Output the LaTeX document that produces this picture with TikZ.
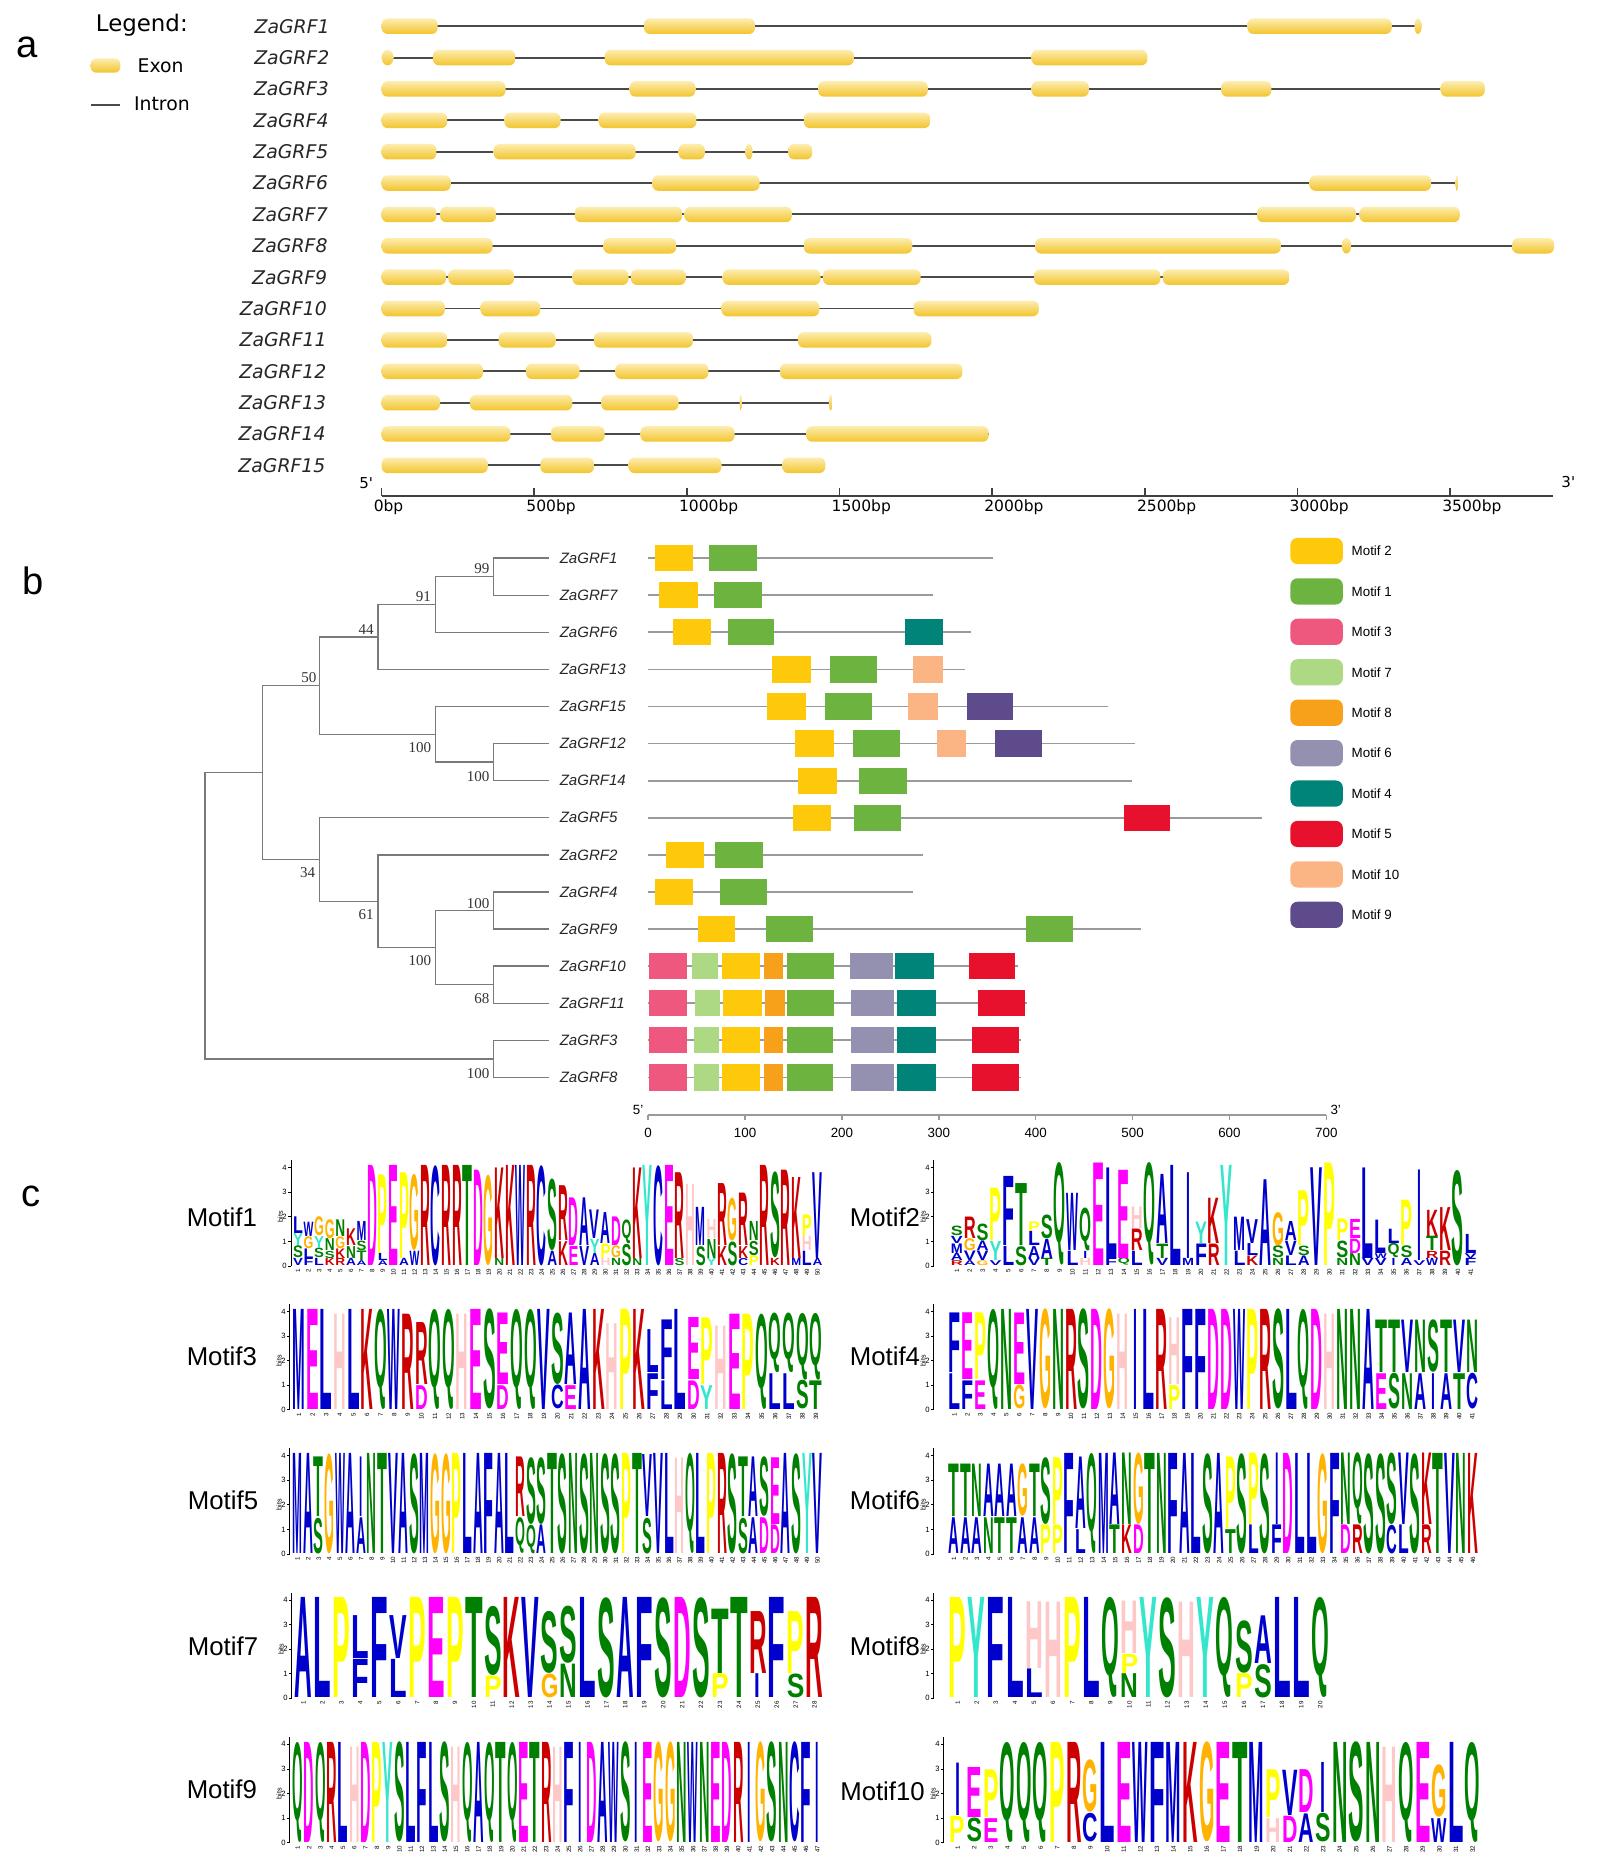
\documentclass[tikz,border=0pt]{standalone}
\usepackage{fontspec}
\usepackage{graphicx}
\setmainfont{Liberation Sans}
\newfontfamily\dvs{DejaVu Sans}
\newfontfamily\lserif{Liberation Serif}
\newfontfamily\logofont{Liberation Sans}
\newcommand\fs[1]{\fontsize{#1}{#1}\selectfont}
\definecolor{exonTop}{HTML}{FDEDB0}
\definecolor{exonBot}{HTML}{F2C42C}
\definecolor{intronC}{HTML}{4A4A4A}
\definecolor{treeC}{HTML}{7A7A7A}
\definecolor{protC}{HTML}{9A9A9A}
\definecolor{m1}{HTML}{6CB33F}
\definecolor{m2}{HTML}{FDC90A}
\definecolor{m3}{HTML}{EF587E}
\definecolor{m4}{HTML}{00847A}
\definecolor{m5}{HTML}{E8112D}
\definecolor{m6}{HTML}{9491B0}
\definecolor{m7}{HTML}{ADD985}
\definecolor{m8}{HTML}{F7A11A}
\definecolor{m9}{HTML}{5E4B8B}
\definecolor{m10}{HTML}{FBB584}
\definecolor{aablue}{HTML}{0000CC}
\definecolor{aagreen}{HTML}{008000}
\definecolor{aamag}{HTML}{FF00FF}
\definecolor{aared}{HTML}{CC0000}
\definecolor{aapink}{HTML}{FFC8C8}
\definecolor{aaorange}{HTML}{FFB300}
\definecolor{aayellow}{HTML}{FFFF00}
\definecolor{aacyan}{HTML}{33E6CC}
\colorlet{aaA}{aablue}\colorlet{aaC}{aablue}\colorlet{aaF}{aablue}\colorlet{aaI}{aablue}
\colorlet{aaL}{aablue}\colorlet{aaV}{aablue}\colorlet{aaW}{aablue}\colorlet{aaM}{aablue}
\colorlet{aaN}{aagreen}\colorlet{aaQ}{aagreen}\colorlet{aaS}{aagreen}\colorlet{aaT}{aagreen}
\colorlet{aaD}{aamag}\colorlet{aaE}{aamag}\colorlet{aaK}{aared}\colorlet{aaR}{aared}
\colorlet{aaH}{aapink}\colorlet{aaG}{aaorange}\colorlet{aaP}{aayellow}\colorlet{aaY}{aacyan}
\tikzset{
  exon/.style={top color=exonTop, bottom color=exonBot, draw=none, rounded corners=2.5pt},
  intron/.style={draw=intronC, line width=0.8pt},
  glab/.style={font=\dvs\itshape\fs{7.9}, text=black!85, anchor=east, inner sep=0},
  tlab/.style={font=\itshape\fs{6.3}, text=black!85, anchor=west, inner sep=0},
  boot/.style={font=\lserif\fs{6.3}, text=black!80, inner sep=0},
  tree/.style={draw=treeC, line width=0.6pt},
  protline/.style={draw=protC, line width=0.7pt},
  panel/.style={font=\fs{16}, inner sep=0},
  mlab/.style={font=\fs{10.8}, inner sep=0},
}
\def\bitu{20.6}
\def\Iletter{I}
\newcommand\gene[3]{%
  \draw[intron] (320,#1) -- (#2,#1);
  \foreach \a/\b in {#3} {\shade[exon] (\a,#1-6.5) rectangle (\b,#1+6.5);}}
\newcommand\tinyex[3]{\shade[top color=exonTop, bottom color=exonBot] (#2,#1) ellipse (#3 and 6.5);}
\newcommand\prot[3]{%
  \draw[protline] (543.5,#1) -- (543.5+#2*0.8123,#1);
  \foreach \c/\a/\b in {#3} {\fill[\c] (543.5+\a*0.8123,#1-11) rectangle (543.5+\b*0.8123,#1+11);}}
\newcommand\logo[5]{%
  \draw[line width=0.3pt] (#1,#4) -- (#1,#4-4.3*\bitu);
  \foreach \t in {0,...,4} {\draw[line width=0.3pt] (#1,#4-\t*\bitu) -- ++(-2.5,0) node[anchor=east, inner sep=0.4pt, font=\fs{3.2}] {\t};}
  \node[rotate=90, font=\fs{3}, inner sep=0] at (#1-9,#4-2*\bitu) {bits};
  \foreach \st [count=\i] in {#5} {%
    \pgfmathsetmacro\xc{#2+(\i-0.5)*#3}%
    \gdef\yacc{0}%
    \foreach \L/\h in \st {%
      \pgfmathsetmacro\yb{#4-\yacc*\bitu}%
      \pgfmathsetlengthmacro\hh{max(\h*\bitu*0.5*0.97,0.2)}%
      \ifx\L\Iletter\pgfmathsetlengthmacro\ww{#3*0.5*0.3}\else\pgfmathsetlengthmacro\ww{#3*0.5*0.93}\fi
      \node[inner sep=0, anchor=south, text=aa\L] at (\xc,\yb) {\resizebox*{\ww}{\hh}{\logofont\bfseries\L}};
      \pgfmathsetmacro\ynew{\yacc+\h}\xdef\yacc{\ynew}%
    }%
    \node[rotate=90, anchor=east, font=\fs{2.6}, inner sep=0.3pt] at (\xc,#4+1.5) {\i};
  }}
\begin{document}
\begin{tikzpicture}[x=0.5pt,y=-0.5pt]
\useasboundingbox (0,0) rectangle (1342,1568);
\fill[white] (0,0) rectangle (1342,1568);
% ---------------- panel a
\node[panel] (pa) at (23,40) {a};
\node[font=\dvs\fs{9.6}, anchor=west, inner sep=0] (leg) at (80,21) {Legend:};
\shade[exon] (76,49) rectangle (101,61);
\node[font=\dvs\fs{7.9}, anchor=west, inner sep=0] (lex) at (115,55) {Exon};
\draw[intron] (76,88) -- (101,88);
\node[font=\dvs\fs{7.9}, anchor=west, inner sep=0] (lin) at (112,87) {Intron};
\foreach \i in {1,...,15} {\node[glab] (ga\i) at (277-0.25*\i,22+\i*26.3-26.3) {ZaGRF\i};}
\gene{22}{1192}{320/367,540/633,1046/1167}\tinyex{22}{1189}{3}
\gene{48.3}{962}{363/432,507/716,865/962}\tinyex{48.3}{325}{5}
\gene{74.6}{1245}{320/424,528/583,686/778,865/913,1024/1066,1208/1245}
\gene{100.9}{780}{320/375,423/470,502/584,674/780}
\gene{127.2}{681}{320/366,414/533,569/591,661/681}\tinyex{127.2}{628}{3}
\gene{153.5}{1222}{320/378,547/637,1098/1200}\tinyex{153.5}{1221.5}{1}
\gene{179.8}{1224}{320/366,369/416,482/572,574/664,1054/1137,1140/1224}
\gene{206.1}{1303}{320/413,506/567,674/765,868/1074,1268/1303}\tinyex{206.1}{1129}{4}
\gene{232.4}{1081}{320/374,376/431,480/527,529/575,606/688,690/772,867/973,975/1081}
\gene{258.7}{871}{320/373,403/453,605/687,766/871}
\gene{285}{781}{320/375,418/466,498/581,669/781}
\gene{311.3}{807}{320/405,441/486,516/594,654/807}
\gene{337.6}{697}{320/369,394/480,504/569}\tinyex{337.6}{621}{0.8}\tinyex{337.6}{696.5}{1.5}
\gene{363.9}{829}{320/428,462/507,537/616,676/829}
\gene{390.2}{692}{320/409,453/498,527/605,656/692}
\draw[line width=0.8pt, black!75] (320,416) -- (1302,416);
\foreach \k in {0,...,7} {\draw[line width=0.7pt, black!75] (320+\k*128,416) -- ++(0,-6.5);
  \node[font=\dvs\fs{6.5}, anchor=north west, inner sep=0] at (320+\k*128-7,419) {\the\numexpr\k*500\relax bp};}
\node[font=\dvs\fs{6.3}, inner sep=0] (a5) at (307,405) {5'};
\node[font=\dvs\fs{6.3}, inner sep=0] (a3) at (1315,404) {3'};
% ---------------- panel b
\node[panel] (pb) at (28,487) {b};
\foreach \n/\y in {1/468,7/499.1,6/530.2,13/561.3,15/592.4,12/623.5,14/654.6,5/685.7,2/716.8,4/747.9,9/779,10/810.1,11/841.2,3/872.3,8/903.4}
 {\coordinate (l\n) at (460,\y); \node[tlab] (t\n) at (469,\y) {ZaGRF\n};}
\coordinate (n99) at (414,483.55);
\coordinate (n91) at (365,506.9);
\coordinate (n44) at (317,534.1);
\coordinate (nB) at (414,639.05);
\coordinate (nA1) at (365,615.7);
\coordinate (n50) at (268,574.9);
\coordinate (nD) at (414,763.45);
\coordinate (n68) at (414,825.65);
\coordinate (nC) at (365,794.55);
\coordinate (n61) at (317,755.7);
\coordinate (n34) at (268,720.7);
\coordinate (nA) at (220,647.8);
\coordinate (n38) at (414,887.85);
\coordinate (root) at (172,767.8);
\draw[tree] (l1) -| (n99) |- (l7);
\draw[tree] (n99) -| (n91) |- (l6);
\draw[tree] (n91) -| (n44) |- (l13);
\draw[tree] (l12) -| (nB) |- (l14);
\draw[tree] (l15) -| (nA1) |- (nB);
\draw[tree] (n44) -| (n50) |- (nA1);
\draw[tree] (l4) -| (nD) |- (l9);
\draw[tree] (l10) -| (n68) |- (l11);
\draw[tree] (nD) -| (nC) |- (n68);
\draw[tree] (l2) -| (n61) |- (nC);
\draw[tree] (l5) -| (n34) |- (n61);
\draw[tree] (n50) -| (nA) |- (n34);
\draw[tree] (l3) -| (n38) |- (l8);
\draw[tree] (nA) -| (root) |- (n38);
\node[boot] at ([shift={(-10,-7)}]n99) {99};
\node[boot] at ([shift={(-10,-7)}]n91) {91};
\node[boot] at ([shift={(-10,-6)}]n44) {44};
\node[boot] at ([shift={(-9,-7)}]n50) {50};
\node[boot] at ([shift={(-13,11)}]nA1) {100};
\node[boot] at ([shift={(-13,12)}]nB) {100};
\node[boot] at ([shift={(-10,11)}]n34) {34};
\node[boot] at ([shift={(-10,11)}]n61) {61};
\node[boot] at ([shift={(-13,-6)}]nD) {100};
\node[boot] at ([shift={(-13,11)}]nC) {100};
\node[boot] at ([shift={(-10,12)}]n68) {68};
\node[boot] at ([shift={(-13,12)}]n38) {100};
\prot{468}{356}{m2/7/46,m1/63/112}
\prot{499.1}{294}{m2/11/51,m1/68/117}
\prot{530.2}{333}{m2/26/65,m1/82/130,m4/265/304}
\prot{561.3}{327}{m2/128/168,m1/188/236,m10/273/304}
\prot{592.4}{475}{m2/123/163,m1/182/231,m10/268/299,m9/329/377}
\prot{623.5}{503}{m2/152/192,m1/211/260,m10/298/328,m9/358/406}
\prot{654.6}{499}{m2/155/195,m1/218/267}
\prot{685.7}{634}{m2/149/189,m1/212/261,m5/491/539}
\prot{716.8}{284}{m2/18/58,m1/69/118}
\prot{747.9}{273}{m2/7/46,m1/74/123}
\prot{779}{509}{m2/51/90,m1/122/170,m1/390/438}
\prot{810.1}{382}{m3/1/40,m7/45/72,m2/76/115,m8/120/139,m1/143/192,m6/208/253,m4/255/295,m5/331/379}
\prot{841.2}{391}{m3/1/40,m7/48/74,m2/77/117,m8/121/141,m1/143/192,m6/209/254,m4/257/297,m5/340/389}
\prot{872.3}{385}{m3/1/40,m7/47/73,m2/76/115,m8/120/139,m1/143/191,m6/209/254,m4/257/297,m5/334/383}
\prot{903.4}{385}{m3/1/40,m7/47/73,m2/76/115,m8/120/139,m1/143/191,m6/209/254,m4/257/297,m5/334/383}
\draw[protline, line width=0.6pt] (543.5,935) -- (1112.1,935);
\foreach \k in {0,...,7} {\draw[protline, line width=0.6pt] (543.5+\k*81.23,935) -- ++(0,4);
  \node[font=\fs{5.6}, inner sep=0] at (543.5+\k*81.23,950) {\the\numexpr\k*100\relax};}
\node[font=\fs{5.6}, inner sep=0] (b5) at (535,931) {5'};
\node[font=\fs{5.6}, inner sep=0] (b3) at (1120,931) {3'};
\foreach \c/\t [count=\k from 0] in {m2/Motif 2,m1/Motif 1,m3/Motif 3,m7/Motif 7,m8/Motif 8,m6/Motif 6,m4/Motif 4,m5/Motif 5,m10/Motif 10,m9/Motif 9}
 {\fill[\c, rounded corners=3pt] (1082,462+\k*33.9-11) rectangle (1126,462+\k*33.9+11);
  \node[font=\fs{5.6}, anchor=west, inner sep=0] (lg\k) at (1133,462+\k*33.9) {\t};}
% ---------------- panel c
\node[panel] (pc) at (26,1003) {c};
\node[mlab] (c1) at (186,1021) {Motif1};
\node[mlab] (c2) at (742,1021) {Motif2};
\node[mlab] (c3) at (186,1137) {Motif3};
\node[mlab] (c4) at (742,1137) {Motif4};
\node[mlab] (c5) at (187,1258) {Motif5};
\node[mlab] (c6) at (742,1258) {Motif6};
\node[mlab] (c7) at (187,1380) {Motif7};
\node[mlab] (c8) at (742,1380) {Motif8};
\node[mlab] (c9) at (186,1500) {Motif9};
\node[mlab] (c10) at (740,1502) {Motif10};
\logo{244}{245.4}{8.89}{1061.5}{{V/.3,S/.5,Y/.5,L/.7},{F/.3,L/.4,G/.5,W/.6},{L/.3,S/.4,Y/.5,G/.8},{K/.3,S/.3,N/.5,G/.8},{R/.3,K/.4,G/.5,N/.7},{A/.3,N/.5,K/.7},{A/.2,T/.4,S/.4,M/.8},D/4.2,{A/.2,L/.3,P/3.3},E/4.2,{A/.3,P/3.6},{W/.6,G/3.2},R/4.2,C/4.2,R/4.2,R/4.2,T/4.2,D/4.0,G/3.8,{N/.3,K/3.8},K/4.2,W/4.2,R/4.2,C/4.2,{A/.6,S/3.0},{K/1,R/2.3},{E/.8,D/2.0},{V/.8,A/2.0},{A/.5,Y/.6,V/1.2},{H/.3,P/.6,A/1.3},{N/.3,G/.5,D/1.2},{S/.9,Q/1.0},{N/.3,K/3.8},Y/4.2,C/4.2,E/4.2,{S/.3,R/3.6},H/3.4,{S/.8,M/1.6},{Y/.3,N/.8,H/.8},{K/.8,R/2.6},{S/1.0,G/1.8},{C/.3,K/.5,R/2.2},{P/.4,S/.6,N/.8},R/4.2,{K/.3,S/3.6},R/4.0,{M/.3,K/3.4},{L/.6,H/.6,P/.9},{A/.3,V/3.6}}
\logo{783}{797}{10.77}{1061.5}{{R/.2,A/.3,M/.4,V/.3,S/.4},{A/.2,V/.4,G/.5,R/.9},{G/.2,V/.4,A/.4,S/.7},{V/.2,Y/.8,P/2.2},{L/.8,F/2.9},{S/.8,T/2.6},{V/.3,A/.5,L/.6,P/.4},{T/.3,A/.8,S/1.0},Q/4.3,{L/.6,W/2.4},{H/.3,I/.3,Q/1.8},E/4.3,{F/.3,L/3.8},{Q/.3,E/3.7},{L/.6,R/.9,H/.9},Q/4.3,{V/.3,T/.6,A/2.9},L/4.2,{M/.3,I/3.6},{F/.9,Y/.9},{R/.9,K/1.9},Y/4.2,{L/.6,M/1.4},{K/.4,L/.5,V/1.0},A/3.6,{N/.3,S/.5,G/1.4},{L/.4,V/.6,A/.8},{A/.4,S/.4,P/2.3},V/4.1,P/4.3,{N/.3,S/.7,P/.9},{N/.5,D/.6,E/.8},{V/.3,L/3.8},{V/.3,W/.2,L/1.4},{I/.3,Q/.6,L/.6},{A/.3,S/.5,P/1.9},{V/.2,I/3.8},{W/.3,R/.3,T/.6,K/1.1},{R/.6,K/1.8},S/4.0,{F/.3,V/.2,L/.8}}
\logo{243}{245}{11.41}{1182}{M/4.2,E/4.2,L/4.2,H/4,L/4.2,K/4.2,Q/4.2,W/4.2,R/4,{D/1,R/2.6},Q/4.2,Q/4.2,H/4,E/4.2,S/4.2,{D/1,E/3},Q/4.2,Q/4.2,V/4.2,{C/1,S/3},{E/1,A/3},A/4.2,K/4.2,H/3.6,P/4.2,K/4.2,{F/1.5,L/1.8},{L/1.2,F/2.5},L/4.2,{D/1.2,E/2.6},{Y/1,P/2.8},H/3.5,E/4,P/4,Q/4,{L/1.5,Q/2.5},{L/1.5,Q/2.5},{S/1.2,Q/2.8},{T/1.2,Q/2.8}}
\logo{783}{795}{10.85}{1182}{{L/1.5,F/2.5},{F/1.2,E/2.8},{E/1.2,P/2.8},Q/4.2,N/4.2,{G/1,E/3},V/4.2,G/4.2,N/4.2,R/4.2,S/4.2,D/4.2,G/4.2,H/4,I/4.2,L/4.2,R/4.2,{P/1,H/2.8},F/4.2,F/4.2,D/4.2,D/4.2,W/4.2,P/4.2,R/4.2,S/4.2,L/4.2,Q/4.2,D/4.2,H/4,N/4.2,N/4.2,A/4.2,{E/1.5,T/2.2},{S/1.5,T/2.2},{N/1.5,V/2.2},{A/1.5,N/2.2},{I/1.5,S/2.2},{A/1.5,T/2.2},{T/1.5,V/2.2},{C/1.5,N/2.2}}
\logo{243}{245}{8.9}{1303}{M/4.2,A/4.2,{S/1.5,T/2.5},G/4.2,W/4.2,A/4.2,{A/1.5,I/2.5},N/4.2,T/4.2,V/4.2,A/4.2,S/4.2,M/4.2,G/4.2,G/4.2,P/4.2,L/4.2,A/4.2,F/4.2,A/4.2,L/4.2,{Q/1.5,R/2.5},{Q/1.2,S/2.8},{A/1.2,S/2.8},T/4.2,S/4.2,N/4.2,S/4.2,N/4.2,S/4.2,S/4.2,P/4.2,T/4.2,{S/1.5,V/2.6},V/4.2,L/4.2,H/4,Q/4.2,L/4.2,P/4.2,R/4.2,S/4.2,{S/1.5,T/2.5},{A/1.5,A/2.5},{D/1.5,S/2.5},{D/1.2,E/2.8},A/4.2,S/4.2,Y/4.2,V/4.2}
\logo{783}{795}{9.67}{1303}{{A/1.5,T/2.2},{A/1.5,T/2.2},{A/1.5,N/2.2},{N/1.5,A/2.2},{T/1.5,A/2.2},{T/1.5,A/2.2},{A/1.5,G/2.2},{A/1.5,T/2.2},{P/1.2,S/2.8},{P/1.2,P/2.8},F/4.2,{L/1,A/3},Q/4.2,M/4.2,{T/1.2,A/3},{K/1.2,N/3},{D/1.2,G/3},T/4.2,N/4.2,F/4.2,A/4.2,L/4.2,S/4.2,A/4.2,{T/1,P/3},S/4.2,{L/1.2,P/3},S/4.2,{F/1.2,I/3},D/4.2,L/4.2,L/4.2,G/4.2,F/4.2,{D/1.2,N/3},{R/1.2,Q/3},S/4.2,S/4.2,{C/1.2,S/3},{L/1.2,V/3},S/4.2,{R/1.2,K/3},T/4.2,V/4.2,N/4.2,K/4.2}
\logo{244.7}{246.6}{15.87}{1424}{A/4.2,L/4.2,P/4.2,{F/1.6,L/1.8},F/4.2,{L/1.6,V/1.8},P/4.2,E/4.2,P/4.2,T/4.2,{P/.9,S/2.9},K/4.2,V/4.2,{G/1,S/2.6},{N/1.4,S/2.4},L/4.2,S/4.2,A/4.2,F/4.2,S/4.2,D/4.2,S/4.2,{P/1,T/2.7},T/4.2,{I/1,R/2.6},F/4.2,{S/1,P/2.6},R/4.2}
\logo{783}{795}{16}{1424}{P/4.2,Y/4.2,F/4.2,L/4.2,{L/1.2,H/2.8},H/4,P/4.2,L/4.2,Q/4.2,{N/1,P/.8,H/2.2},Y/4.2,S/4.2,H/4,Y/4.2,Q/4.2,{P/1,S/2.2},{S/1.4,A/2},L/4.2,L/4.2,Q/4.2}
\logo{243}{245}{9.47}{1545}{Q/4.2,D/4.2,Q/4.2,R/4.2,L/4.2,H/4,D/4.2,P/4.2,Y/4.2,S/4.2,L/4.2,F/4.2,L/4.2,S/4.2,H/4,Q/4.2,A/4.2,Q/4.2,T/4.2,Q/4.2,E/4.2,T/4.2,R/4.2,H/4,F/4.2,I/4.2,D/4.2,A/4.2,W/4.2,S/4.2,I/4.2,E/4.2,G/4.2,G/4.2,N/4.2,W/4.2,N/4.2,E/4.2,D/4.2,R/4.2,I/4.2,G/4.2,S/4.2,N/4.2,C/4.2,F/4.2,I/4.2}
\logo{791.4}{796}{13.93}{1545}{{P/1.1,I/2.2},{S/1,E/2.1},{E/1,P/2},Q/4.2,Q/4.2,Q/4.2,P/4.2,R/4.2,{C/1.2,G/2.2},L/4.2,E/4.2,W/4.2,F/4.2,M/4.2,K/4.2,G/4.2,E/4.2,T/4.2,M/4.2,{H/1,P/2},{D/1.1,V/1.9},{A/1.2,D/1.8},{S/1.2,I/2.1},N/4.2,S/4.2,N/4.2,H/4,Q/4.2,E/4.2,{W/1,G/2.2},L/4.2,Q/4.2}
\end{tikzpicture}
\end{document}
